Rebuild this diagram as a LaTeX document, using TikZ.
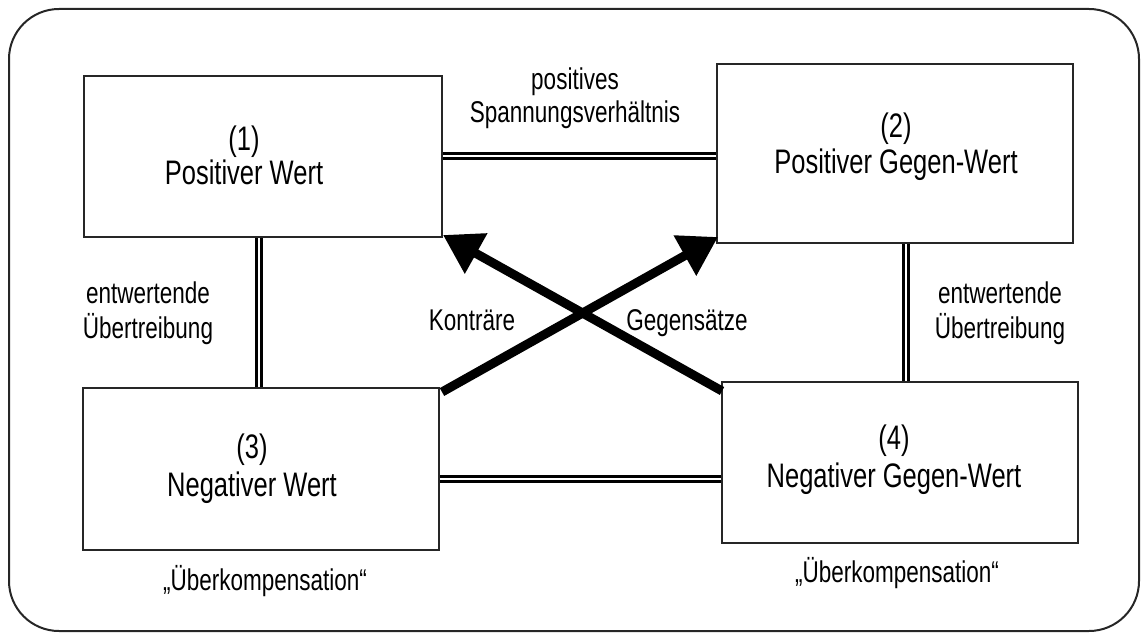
\documentclass[tikz,border=0pt]{standalone}
\usepackage{fontspec}
\setmainfont{Liberation Sans}[FakeStretch=0.75]
\usetikzlibrary{arrows.meta}
\begin{document}
\begin{tikzpicture}[x=1pt,y=-1pt,
  valuebox/.style={draw=black!85,line width=2pt,minimum width=#1,inner sep=0pt},
  boxtext/.style={anchor=base,inner sep=0pt,font=\fontsize{34}{40}\selectfont},
  labeltext/.style={anchor=base,inner sep=0pt,font=\fontsize{30}{36}\selectfont},
  doubleline/.style={draw=black,line width=3pt,double=white,double distance=2pt},
  opposition/.style={draw=black,line width=9pt,-{Triangle[length=38pt,width=44pt]}}
]
\useasboundingbox (0,0) rectangle (1145,634);

% outer frame
\draw[black!85,line width=2pt,rounded corners=50pt] (9,9) rectangle (1139,631);

% the four value boxes
\node[valuebox=358pt,minimum height=161pt] (b1) at (263,156.5) {};
\node[valuebox=356pt,minimum height=179pt] (b2) at (895,153.5) {};
\node[valuebox=356pt,minimum height=162pt] (b3) at (261,469) {};
\node[valuebox=356pt,minimum height=161pt] (b4) at (900,462.5) {};

\node[boxtext] (n1) at (244,150) {(1)};
\node[boxtext] (t1) at (244,184) {Positiver Wert};
\node[boxtext] (n2) at (896,137) {(2)};
\node[boxtext] (t2) at (896,173) {Positiver Gegen-Wert};
\node[boxtext] (n3) at (252,458) {(3)};
\node[boxtext] (t3) at (252,496) {Negativer Wert};
\node[boxtext] (n4) at (894,449) {(4)};
\node[boxtext] (t4) at (894,487) {Negativer Gegen-Wert};

% double connectors
\coordinate (h12) at (0,156);
\coordinate (h34) at (0,479);
\coordinate (v13) at (259,0);
\coordinate (v24) at (906,0);
\draw[doubleline] (b1.east |- h12) -- (b2.west |- h12);
\draw[doubleline] (b3.east |- h34) -- (b4.west |- h34);
\draw[doubleline] (b1.south -| v13) -- (b3.north -| v13);
\draw[doubleline] (b2.south -| v24) -- (b4.north -| v24);

% crossing arrows
\coordinate (s3) at (442,392);
\coordinate (s4) at (722,391);
\coordinate (e1) at (443,235);
\coordinate (e2) at (718,237);
\draw[opposition] (s4) -- (e1);
\draw[opposition] (s3) -- (e2);

% labels
\node[labeltext] (lp1) at (575,89) {positives};
\node[labeltext] (lp2) at (575,122) {Spannungsverhältnis};
\node[labeltext] (la1) at (148,303) {entwertende};
\node[labeltext] (la2) at (148,338) {Übertreibung};
\node[labeltext] (lb1) at (1000,303) {entwertende};
\node[labeltext] (lb2) at (1000,338) {Übertreibung};
\node[labeltext] (lk) at (472,330) {Konträre};
\node[labeltext] (lg) at (687,330) {Gegensätze};
\node[labeltext] (lu1) at (265,590) {„Überkompensation“};
\node[labeltext] (lu2) at (897,582) {„Überkompensation“};
\end{tikzpicture}
\end{document}
